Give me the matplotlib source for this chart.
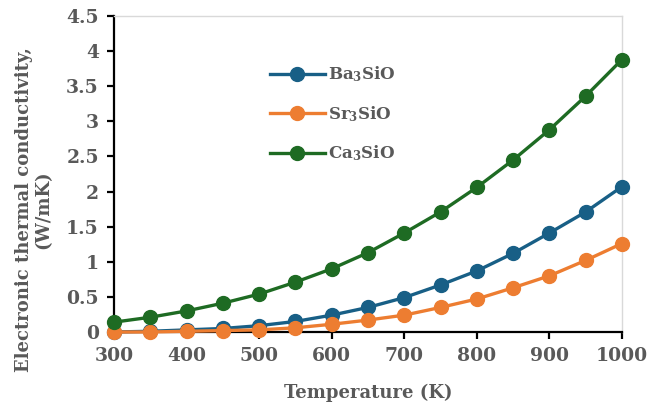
import numpy as np
import matplotlib
matplotlib.use("Agg")
import matplotlib.pyplot as plt

temperature = [300, 350, 400, 450, 500, 550, 600, 650, 700, 750, 800, 850, 900, 950, 1000]
ba3sio = [0.00, 0.01, 0.03, 0.05, 0.09, 0.15, 0.24, 0.35, 0.49, 0.67, 0.87, 1.12, 1.41, 1.71, 2.07]
sr3sio = [0.00, 0.00, 0.01, 0.02, 0.03, 0.06, 0.11, 0.17, 0.24, 0.35, 0.47, 0.63, 0.80, 1.02, 1.26]
ca3sio = [0.14, 0.21, 0.30, 0.41, 0.54, 0.71, 0.90, 1.13, 1.41, 1.71, 2.06, 2.45, 2.88, 3.36, 3.88]

series_names = ["Ba$_{3}$SiO", "Sr$_{3}$SiO", "Ca$_{3}$SiO"]
series_colors = ["#185f86", "#ed7d31", "#1e6b23"]

plt.rcParams["font.family"] = "DejaVu Serif"
plt.rcParams["font.weight"] = "bold"
plt.rcParams["mathtext.default"] = "regular"

text_color = "#595959"

fig = plt.figure(figsize=(6.49, 4.07), dpi=100)
ax = fig.add_axes([0.1757, 0.1843, 0.9584 - 0.1757, 0.9607 - 0.1843])

for vals, name, col in zip([ba3sio, sr3sio, ca3sio], series_names, series_colors):
    ax.plot(temperature, vals, color=col, lw=2.4, marker="o", ms=10,
            label=name, clip_on=False, zorder=3)

ax.set_xlim(300, 1000)
ax.set_ylim(0, 4.5)
ax.set_xticks(np.arange(300, 1001, 100))
ax.set_yticks(np.arange(0, 4.51, 0.5))
ax.set_yticklabels([f"{v:g}" for v in np.arange(0, 4.51, 0.5)])

for s in ["left", "bottom"]:
    ax.spines[s].set_color("black")
    ax.spines[s].set_linewidth(1.6)
for s in ["top", "right"]:
    ax.spines[s].set_color("#d9d9d9")
    ax.spines[s].set_linewidth(1.0)

ax.tick_params(axis="both", direction="out", length=5, width=1.6, color="black",
               labelsize=13.5, labelcolor=text_color)
ax.tick_params(axis="x", pad=6)
ax.tick_params(axis="y", pad=6)
for lab in ax.get_xticklabels() + ax.get_yticklabels():
    lab.set_fontweight("bold")

ax.set_xlabel("Temperature (K)", fontsize=13, fontweight="bold", color=text_color, labelpad=13)
ax.set_ylabel("Electronic thermal conductivity,\n(W/mK)", fontsize=13, fontweight="bold",
              color=text_color, linespacing=1.1)
ax.yaxis.set_label_coords(-0.122, 0.386)

leg = ax.legend(loc="upper left", bbox_to_anchor=(0.293, 0.868), frameon=False,
                fontsize=12, handlelength=3.3, labelspacing=1.2, handletextpad=0.2,
                borderaxespad=0)
for t in leg.get_texts():
    t.set_color(text_color)
    t.set_fontweight("bold")

fig.savefig("out.png", dpi=100)
